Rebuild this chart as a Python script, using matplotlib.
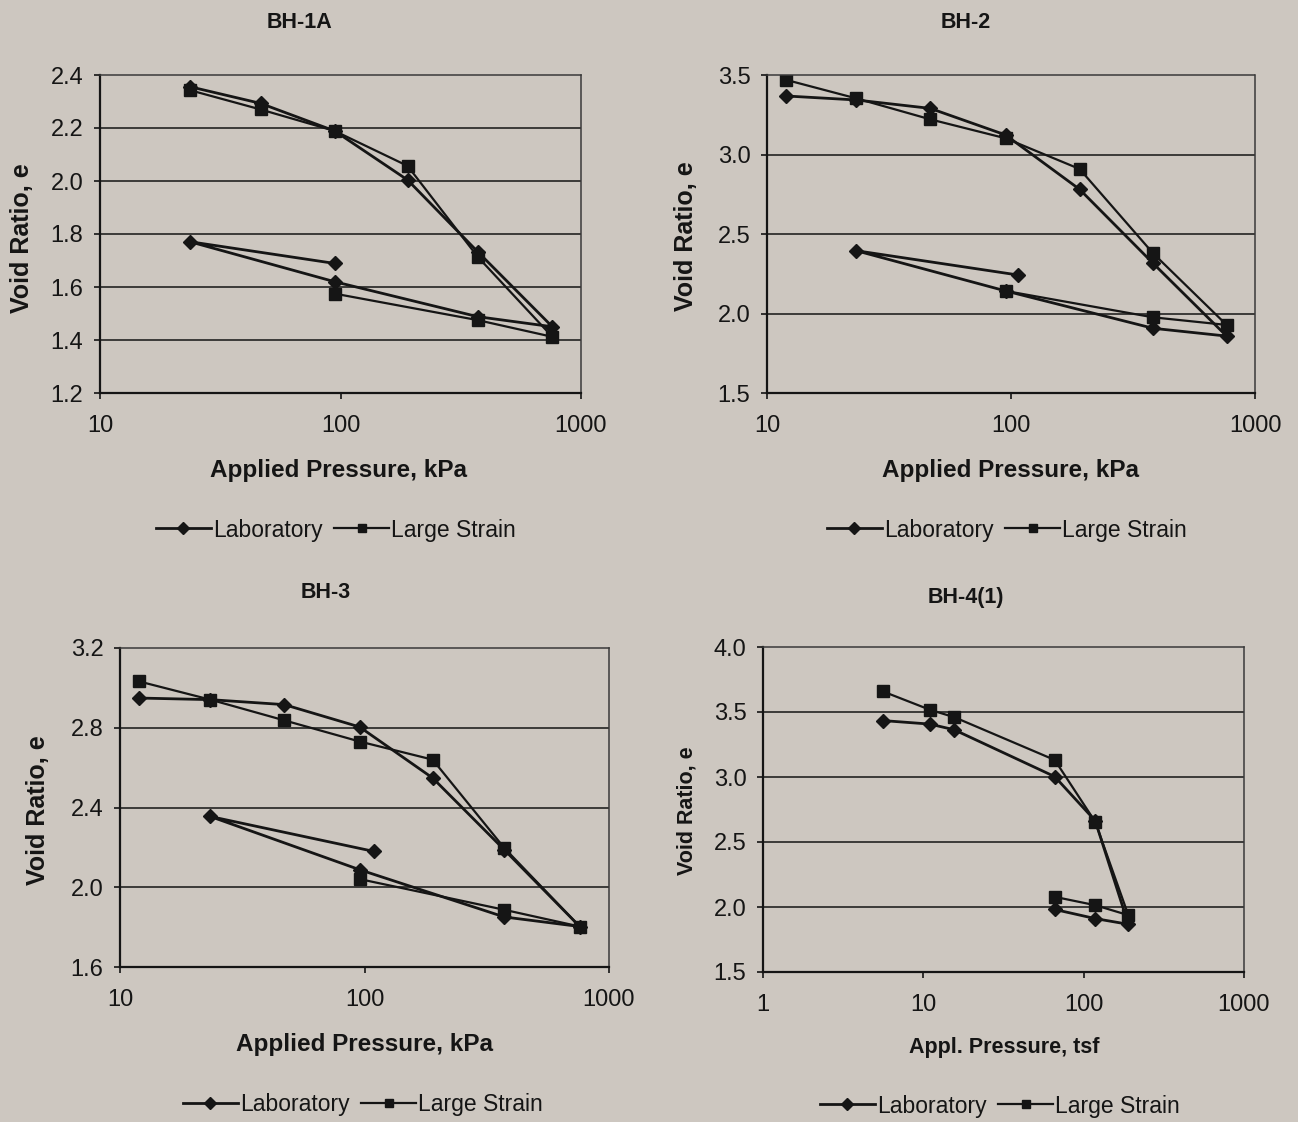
import matplotlib.pyplot as plt
from matplotlib.ticker import FixedLocator, FixedFormatter, NullLocator

plt.rcParams['font.family'] = ['Liberation Sans', 'DejaVu Sans']

bg = '#cdc7c0'
ink = '#151515'

# BH-1A (kPa)
bh1a_lab_p = [23.6, 46.5, 94.5, 190, 372, 760, 372, 94.5, 23.6, 94.5]
bh1a_lab_e = [2.356, 2.293, 2.189, 2.004, 1.733, 1.450, 1.488, 1.620, 1.771, 1.689]
bh1a_ls_p = [23.6, 46.5, 94.5, 190, 372, 760, 372, 94.5]
bh1a_ls_e = [2.343, 2.270, 2.189, 2.057, 1.714, 1.412, 1.475, 1.575]

# BH-2 (kPa)
bh2_lab_p = [12, 23.2, 46.7, 95, 191, 382, 765, 382, 95, 23.2, 107]
bh2_lab_e = [3.368, 3.343, 3.290, 3.123, 2.781, 2.316, 1.858, 1.907, 2.142, 2.395, 2.242]
bh2_ls_p = [12, 23.2, 46.7, 95, 191, 382, 765, 382, 95]
bh2_ls_e = [3.469, 3.353, 3.221, 3.102, 2.909, 2.379, 1.928, 1.976, 2.142]

# BH-3 (kPa)
bh3_lab_p = [12, 23.4, 47, 95.5, 190, 373, 759, 373, 95.5, 23.4, 109]
bh3_lab_e = [2.949, 2.941, 2.916, 2.804, 2.548, 2.188, 1.803, 1.851, 2.088, 2.355, 2.180]
bh3_ls_p = [12, 23.4, 47, 95.5, 190, 373, 759, 373, 95.5]
bh3_ls_e = [3.032, 2.941, 2.837, 2.731, 2.640, 2.197, 1.803, 1.887, 2.041]

# BH-4(1) (tsf)
bh4_lab_p = [5.6, 11, 15.6, 66, 118, 190, 118, 66]
bh4_lab_e = [3.434, 3.407, 3.363, 3.003, 2.664, 1.867, 1.911, 1.981]
bh4_ls_p = [5.6, 11, 15.6, 66, 118, 190, 118, 66]
bh4_ls_e = [3.658, 3.517, 3.460, 3.131, 2.656, 1.937, 2.014, 2.078]

panels = [
    dict(title='BH-1A', lab=(bh1a_lab_p, bh1a_lab_e), ls=(bh1a_ls_p, bh1a_ls_e),
         xlim=(10, 1000), xticks=[10, 100, 1000],
         yticks=[1.2, 1.4, 1.6, 1.8, 2.0, 2.2, 2.4],
         xlabel='Applied Pressure, kPa',
         rect=(100, 75, 581, 393), title_xy=(300, 22), xlab_xy=(338, 470),
         ylab_xy=(22, 238), leg_xy=(336, 530), small=False),
    dict(title='BH-2', lab=(bh2_lab_p, bh2_lab_e), ls=(bh2_ls_p, bh2_ls_e),
         xlim=(10, 1000), xticks=[10, 100, 1000],
         yticks=[1.5, 2.0, 2.5, 3.0, 3.5],
         xlabel='Applied Pressure, kPa',
         rect=(767, 75, 1255, 393), title_xy=(966, 22), xlab_xy=(1010, 470),
         ylab_xy=(686, 236), leg_xy=(1007, 530), small=False),
    dict(title='BH-3', lab=(bh3_lab_p, bh3_lab_e), ls=(bh3_ls_p, bh3_ls_e),
         xlim=(10, 1000), xticks=[10, 100, 1000],
         yticks=[1.6, 2.0, 2.4, 2.8, 3.2],
         xlabel='Applied Pressure, kPa',
         rect=(120, 648, 609, 967), title_xy=(326, 593), xlab_xy=(364, 1045),
         ylab_xy=(38, 810), leg_xy=(363, 1105), small=False),
    dict(title='BH-4(1)', lab=(bh4_lab_p, bh4_lab_e), ls=(bh4_ls_p, bh4_ls_e),
         xlim=(1, 1000), xticks=[1, 10, 100, 1000],
         yticks=[1.5, 2.0, 2.5, 3.0, 3.5, 4.0],
         xlabel='Appl. Pressure, tsf',
         rect=(763, 647, 1244, 972), title_xy=(966, 597), xlab_xy=(1004, 1048),
         ylab_xy=(687, 811), leg_xy=(1000, 1106), small=True),
]

W, H = 1298, 1122
fig = plt.figure(figsize=(W / 100, H / 100), dpi=100, facecolor=bg)

for p in panels:
    l, t, r, b = p['rect']
    ax = fig.add_axes([l / W, 1 - b / H, (r - l) / W, (b - t) / H])
    ax.set_facecolor('none')
    ax.set_xscale('log')
    ax.set_xlim(*p['xlim'])
    ax.set_ylim(p['yticks'][0], p['yticks'][-1])

    ax.xaxis.set_major_locator(FixedLocator(p['xticks']))
    ax.xaxis.set_major_formatter(FixedFormatter([str(v) for v in p['xticks']]))
    ax.xaxis.set_minor_locator(NullLocator())
    ax.set_yticks(p['yticks'])
    ax.set_yticklabels(['%.1f' % v for v in p['yticks']])

    ax.tick_params(axis='both', direction='out', length=4, width=1.2,
                   colors=ink, labelsize=17)
    ax.tick_params(axis='x', pad=12)
    ax.tick_params(axis='y', pad=8)

    ax.grid(axis='y', color=ink, lw=1.1)
    gl = ax.get_ygridlines()
    gl[0].set_visible(False)
    gl[-1].set_visible(False)

    for side in ['left', 'bottom']:
        ax.spines[side].set_color(ink)
        ax.spines[side].set_linewidth(1.6)
    for side in ['top', 'right']:
        ax.spines[side].set_color('#3a3a3a')
        ax.spines[side].set_linewidth(1.1)
        ax.spines[side].set_linestyle((0, (1, 1)))

    lab_line, = ax.plot(*p['lab'], color=ink, lw=2.0, marker='D', ms=7.5,
                        mfc=ink, mec=ink, label='Laboratory')
    ls_line, = ax.plot(*p['ls'], color=ink, lw=1.6, marker='s', ms=8,
                       mfc=ink, mec=ink, label='Large Strain')

    fs_t = 15.5
    fs_x = 15.5 if p['small'] else 17.5
    fs_y = 15.5 if p['small'] else 18
    fig.text(p['title_xy'][0] / W, 1 - p['title_xy'][1] / H, p['title'],
             ha='center', va='center', fontsize=fs_t, fontweight='bold', color=ink)
    fig.text(p['xlab_xy'][0] / W, 1 - p['xlab_xy'][1] / H, p['xlabel'],
             ha='center', va='center', fontsize=fs_x, fontweight='bold', color=ink)
    fig.text(p['ylab_xy'][0] / W, 1 - p['ylab_xy'][1] / H, 'Void Ratio, e',
             ha='center', va='center', rotation=90, fontsize=fs_y,
             fontweight='bold', color=ink)

    fig.legend(handles=[lab_line, ls_line], loc='center',
               bbox_to_anchor=(p['leg_xy'][0] / W, 1 - p['leg_xy'][1] / H),
               ncol=2, frameon=False, fontsize=16.5,
               handlelength=2.4, handletextpad=0.1, columnspacing=0.5,
               markerscale=0.8, labelcolor=ink, borderpad=0.2)

fig.savefig('out.png', dpi=100, facecolor=bg)
